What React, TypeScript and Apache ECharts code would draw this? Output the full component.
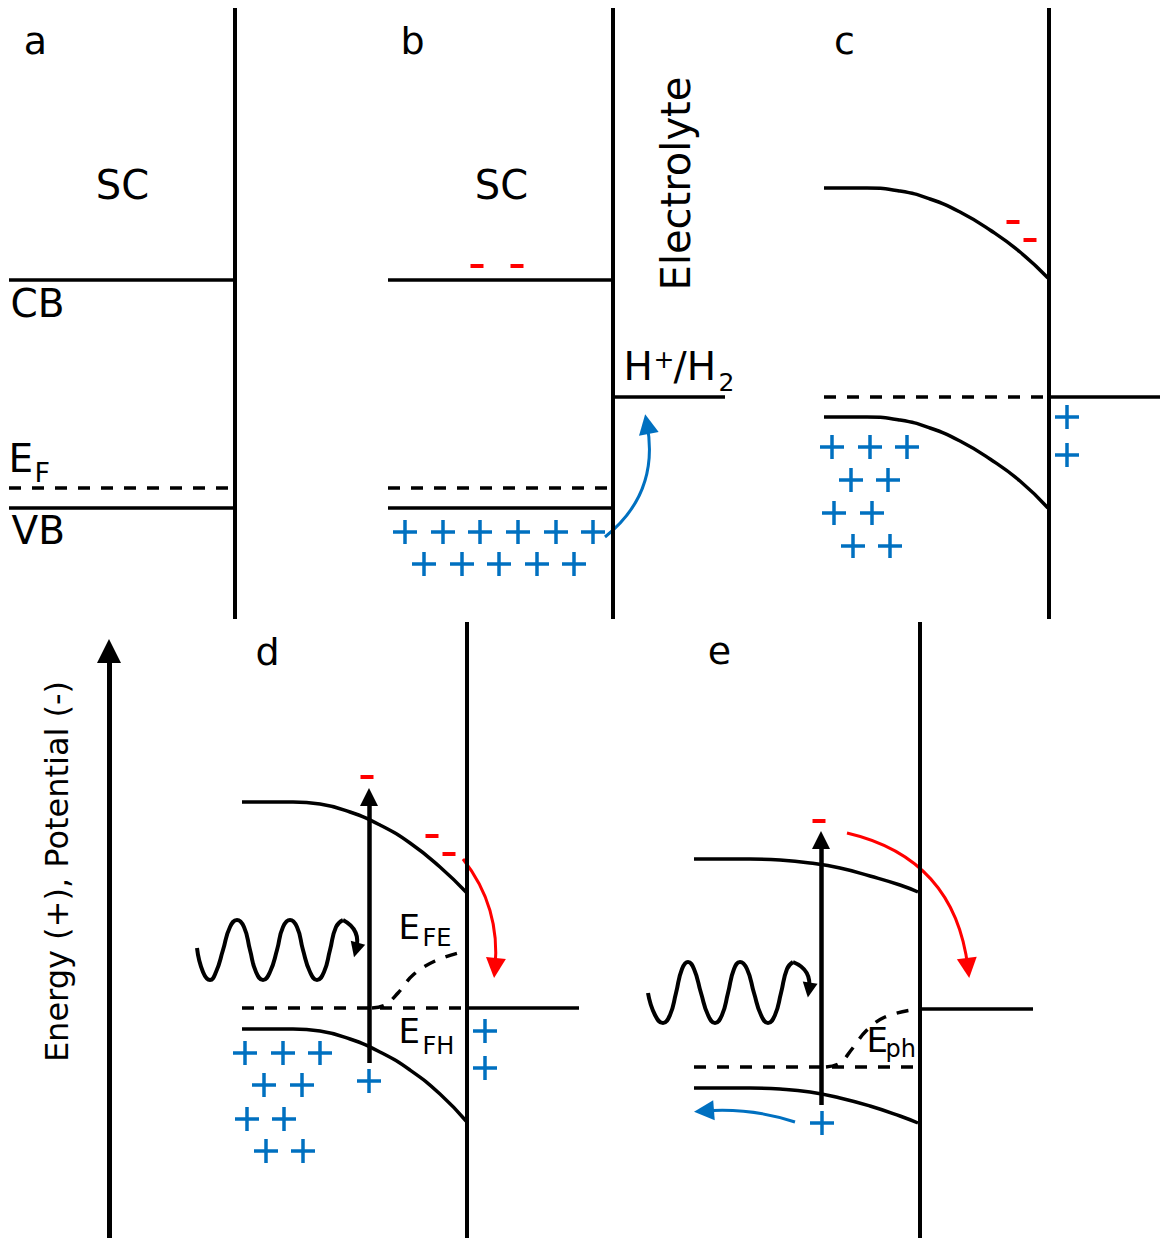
import React, { useEffect, useRef } from 'react';
import * as echarts from 'echarts';

const FONT = 'DejaVu Sans';
const BLACK = '#000000';
const RED = '#ff0000';
const BLUE = '#0070c0';

// ---------- geometry (pixel-like data units) ----------
const walls = [
  [[235, 8], [235, 619]],
  [[613, 8], [613, 619]],
  [[1049, 8], [1049, 619]],
  [[467, 622], [467, 1238]],
  [[920, 622], [920, 1238]],
];
const flatLevels = [
  [[9, 280], [235, 280]],
  [[9, 508], [235, 508]],
  [[388, 280], [613, 280]],
  [[388, 508], [613, 508]],
  [[613, 397], [725, 397]],
  [[1049, 397], [1160, 397]],
  [[467, 1008], [579, 1008]],
  [[920, 1009], [1033, 1009]],
];
const fermiLevels = [
  [[9, 488], [233, 488]],
  [[388, 488], [611, 488]],
  [[824, 397], [1047, 397]],
  [[242, 1008], [465, 1008]],
  [[694, 1067], [918, 1067]],
];
const cCB = [[824, 188], [867, 188], [900, 191], [930, 199], [960, 212], [990, 230], [1020, 252], [1048, 278]];
const cVB = [[824, 417], [867, 417], [900, 420], [930, 428], [960, 441], [990, 459], [1020, 481], [1048, 508]];
const dCB = [[242, 802], [293, 802], [320, 804], [350, 812], [380, 825], [410, 843], [440, 867], [467, 893]];
const dVB = [[242, 1029], [293, 1029], [320, 1031], [350, 1039], [380, 1052], [410, 1070], [440, 1094], [467, 1122]];
const eCB = [[694, 859], [750, 859], [780, 860], [810, 863], [840, 868], [870, 876], [900, 885], [918, 892]];
const eVB = [[694, 1088], [750, 1088], [780, 1089], [810, 1092], [840, 1098], [870, 1106], [900, 1116], [918, 1123]];
const bentBands = [cCB, cVB, dCB, dVB, eCB, eVB];
const dQuasiFermi = [[372, 1008], [385, 1005], [398, 993], [413, 975], [435, 961], [462, 952]];
const eQuasiFermi = [[826, 1067], [840, 1063], [852, 1049], [866, 1031], [885, 1017], [912, 1010]];
const quasiFermi = [dQuasiFermi, eQuasiFermi];
const dWave = [
  [197, 948], [203, 972], [210, 980], [216, 972], [223, 950], [230, 927], [237, 920], [244, 927],
  [250, 950], [256, 972], [263, 980], [270, 972], [277, 950], [283, 927], [290, 920], [297, 927],
  [303, 950], [310, 972], [317, 980], [324, 972], [330, 950], [336, 927], [343, 920],
];
const eWave = [
  [648, 993], [655, 1015], [663, 1023], [670, 1015], [676, 993], [682, 969], [688, 962], [694, 969],
  [701, 993], [708, 1015], [715, 1023], [722, 1015], [728, 993], [734, 969], [740, 962], [747, 969],
  [754, 993], [761, 1015], [768, 1023], [775, 1015], [781, 993], [787, 969], [793, 962],
];
const waves = [dWave, eWave];

// arrows
const axisArrow = [[[109, 1238], [109, 651]]];
const excitationArrows = [[[369, 1063], [369, 797]], [[821, 1105], [821, 840]]];
const waveTips = [[[343, 920], [356, 950]], [[793, 962], [809, 990]]];
const waveTipCurves = [0.4, 0.4];
const redArrows = [[[463, 859], [495, 968]], [[847, 833], [968, 968]]];
const redArrowCurves = [0.2, 0.35];
const blueArrows = [[[605, 537], [647, 424]], [[795, 1122], [704, 1111]]];
const blueArrowCurves = [-0.3, -0.1];

// charges
const holes = [
  [405, 532], [443, 532], [480, 532], [518, 532], [556, 532], [593, 532],
  [424, 564], [462, 564], [499, 564], [537, 564], [574, 564],
  [832, 447], [870, 447], [907, 447], [851, 480], [888, 480], [834, 513], [872, 513], [853, 546], [890, 546],
  [1067, 417], [1067, 455],
  [245, 1053], [283, 1053], [320, 1053], [264, 1085], [302, 1085], [247, 1119], [284, 1119], [266, 1151], [303, 1151],
  [369, 1081], [485, 1031], [485, 1068],
  [822, 1123],
];
const electrons = [
  [477, 266], [517, 266], [1013, 222], [1030, 240], [367, 777], [432, 836], [449, 854], [819, 821],
];

// texts
const panelLetters = [
  { t: 'a', x: 36, y: 41 }, { t: 'b', x: 413, y: 41 }, { t: 'c', x: 845, y: 41 },
  { t: 'd', x: 268, y: 652 }, { t: 'e', x: 720, y: 651 },
];
const regionLabels = [{ t: 'SC', x: 123, y: 185 }, { t: 'SC', x: 502, y: 185 }];
const electrolyteLabel = [{ t: 'Electrolyte', x: 676, y: 184 }];
const energyLabel = [{ t: 'Energy (+), Potential (-)', x: 57, y: 872 }];
const bandLabels = [{ t: 'CB', x: 11, y: 304 }, { t: 'E', x: 9, y: 459 }, { t: 'VB', x: 12, y: 531 }];
const bandSubs = [{ t: 'F', x: 35, y: 473 }];
const redoxMain = [{ t: 'H', x: 624, y: 367 }, { t: '/H', x: 674, y: 367 }];
const redoxSup = [{ t: '+', x: 654, y: 360 }];
const redoxSub = [{ t: '2', x: 719, y: 383 }];
const quasiMain = [{ t: 'E', x: 399, y: 927 }, { t: 'E', x: 399, y: 1031 }, { t: 'E', x: 867, y: 1040 }];
const quasiSubs = [{ t: 'FE', x: 423, y: 938 }, { t: 'FH', x: 423, y: 1046 }, { t: 'ph', x: 886, y: 1049 }];

// ---------- series builders ----------
const PLUS = 'path://M10.25,0H13.75V10.25H24V13.75H13.75V24H10.25V13.75H0V10.25H10.25Z';

function lineS(pts: number[][], color: string, width: number, dashed: boolean, smooth: number | false) {
  return {
    type: 'line',
    data: pts,
    showSymbol: false,
    symbol: 'none',
    smooth: smooth === false ? false : smooth,
    clip: false,
    silent: true,
    lineStyle: { color, width, opacity: 1, type: dashed ? [12, 11] : 'solid', cap: 'butt' },
  };
}

function arrowS(list: number[][][], curves: number[] | null, color: string, width: number, head: number[]) {
  return {
    type: 'lines',
    coordinateSystem: 'cartesian2d',
    silent: true,
    symbol: ['none', 'triangle'],
    symbolSize: head,
    itemStyle: { color, opacity: 1 },
    lineStyle: { color, width, opacity: 1 },
    data: list.map((c, i) => ({
      coords: c,
      lineStyle: { curveness: curves ? curves[i] : 0, color, width, opacity: 1 },
    })),
  };
}

function textS(items: { t: string; x: number; y: number }[], fontSize: number, align: string, rotate = 0) {
  return {
    type: 'scatter',
    symbol: 'circle',
    symbolSize: 1,
    silent: true,
    itemStyle: { color: 'rgba(255,255,255,0)', opacity: 1 },
    data: items.map((d) => ({ name: d.t, value: [d.x, d.y] })),
    label: {
      show: true,
      position: [0, 0],
      formatter: '{b}',
      color: BLACK,
      opacity: 1,
      fontFamily: FONT,
      fontSize,
      align,
      verticalAlign: 'middle',
      rotate,
    },
  };
}

const series: any[] = [];
walls.forEach((w) => series.push(lineS(w, BLACK, 4, false, false)));
flatLevels.forEach((l) => series.push(lineS(l, BLACK, 3.5, false, false)));
fermiLevels.forEach((l) => series.push(lineS(l, BLACK, 3.5, true, false)));
bentBands.forEach((b) => series.push(lineS(b, BLACK, 3.5, false, 0.5)));
quasiFermi.forEach((q) => series.push(lineS(q, BLACK, 3.5, true, 0.4)));
waves.forEach((w) => series.push(lineS(w, BLACK, 4, false, 0.5)));
series.push(arrowS(axisArrow, null, BLACK, 5, [18, 24]));
series.push(arrowS(excitationArrows, null, BLACK, 4.5, [16, 18]));
series.push(arrowS(waveTips, waveTipCurves, BLACK, 4, [13, 15]));
series.push(arrowS(redArrows, redArrowCurves, RED, 3, [15, 20]));
series.push(arrowS(blueArrows, blueArrowCurves, BLUE, 3, [15, 20]));
series.push({
  type: 'scatter', silent: true, symbol: PLUS, symbolSize: 24,
  itemStyle: { color: BLUE, opacity: 1 }, data: holes,
});
series.push({
  type: 'scatter', silent: true, symbol: 'rect', symbolSize: [13, 4],
  itemStyle: { color: RED, opacity: 1 }, data: electrons,
});
series.push(textS(panelLetters, 38, 'center'));
series.push(textS(regionLabels, 40, 'center'));
series.push(textS(electrolyteLabel, 40, 'center', 90));
series.push(textS(energyLabel, 32, 'center', 90));
series.push(textS(bandLabels, 39, 'left'));
series.push(textS(bandSubs, 27, 'left'));
series.push(textS(redoxMain, 39, 'left'));
series.push(textS(redoxSup, 25, 'left'));
series.push(textS(redoxSub, 25, 'left'));
series.push(textS(quasiMain, 34, 'left'));
series.push(textS(quasiSubs, 24, 'left'));

const option = {
  animation: false,
  backgroundColor: '#ffffff',
  grid: { left: 0, right: 0, top: 0, bottom: 0, containLabel: false },
  xAxis: { type: 'value', min: 0, max: 1160, show: false },
  yAxis: { type: 'value', min: 0, max: 1238, inverse: true, show: false },
  series,
};

export default function App() {
  const ref = useRef<HTMLDivElement>(null);
  useEffect(() => {
    const chart = echarts.init(ref.current as HTMLDivElement, null, { renderer: 'svg' });
    chart.setOption(option as any);
    return () => chart.dispose();
  }, []);
  return (
    <div
      ref={ref}
      style={{ position: 'absolute', left: 0, top: 0, width: 1160, height: 1238, background: '#ffffff' }}
    />
  );
}
